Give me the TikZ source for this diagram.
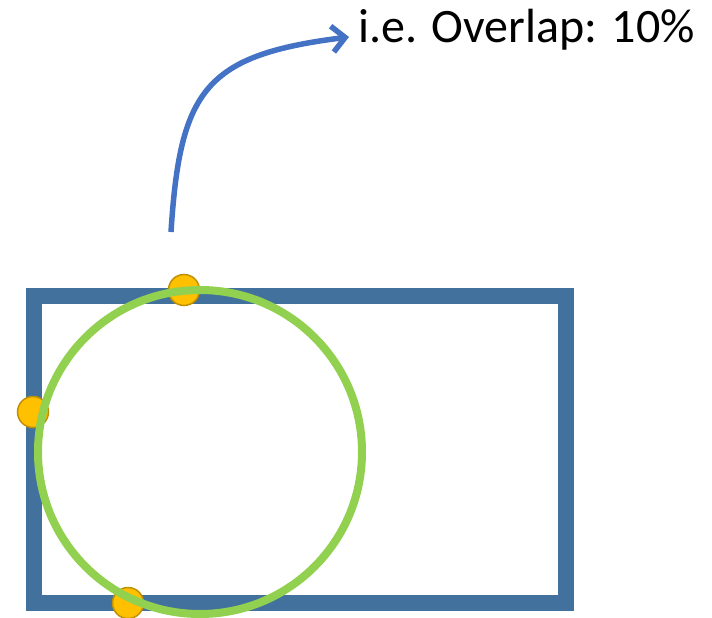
\documentclass[tikz,border=0pt]{standalone}
\usepackage{fontspec}
\setmainfont{Carlito}
\usetikzlibrary{arrows.meta}
\definecolor{boxblue}{HTML}{41719C}
\definecolor{ringgreen}{HTML}{92D050}
\definecolor{dotfill}{HTML}{FFC000}
\definecolor{dotline}{HTML}{BF9000}
\definecolor{arrowblue}{HTML}{4472C4}
\tikzset{
  touch/.style={circle, fill=dotfill, draw=dotline, line width=1.5pt, minimum size=31pt, inner sep=0pt},
}
\begin{document}
\begin{tikzpicture}[x=1pt,y=-1pt]
\useasboundingbox (0,0) rectangle (712,618);
\def\xA{34};
\def\yA{296};
\def\xB{566};
\def\yB{603};
\coordinate (A) at (\xA,\yA);
\coordinate (B) at (\xB,\yB);
\draw[boxblue, line width=16pt] (A) rectangle (B);
\node[touch] (top) at (184,290) {};
\node[touch] (left) at (33,412) {};
\node[touch] (bottom) at (128,603) {};
\draw[ringgreen, line width=8pt] (200,452) circle (162);
\node[anchor=base west, inner sep=0pt, font=\fontsize{48}{52}\selectfont] (label) at (358,43) {i.e. Overlap: 10\%};
\coordinate (start) at (171,232);
\coordinate (tip) at (349,37);
\draw[arrowblue, line width=5.5pt, -{Straight Barb[length=13pt, width=26pt]}] (start) .. controls (180,90) and (205,55) .. (tip);
\end{tikzpicture}
\end{document}
